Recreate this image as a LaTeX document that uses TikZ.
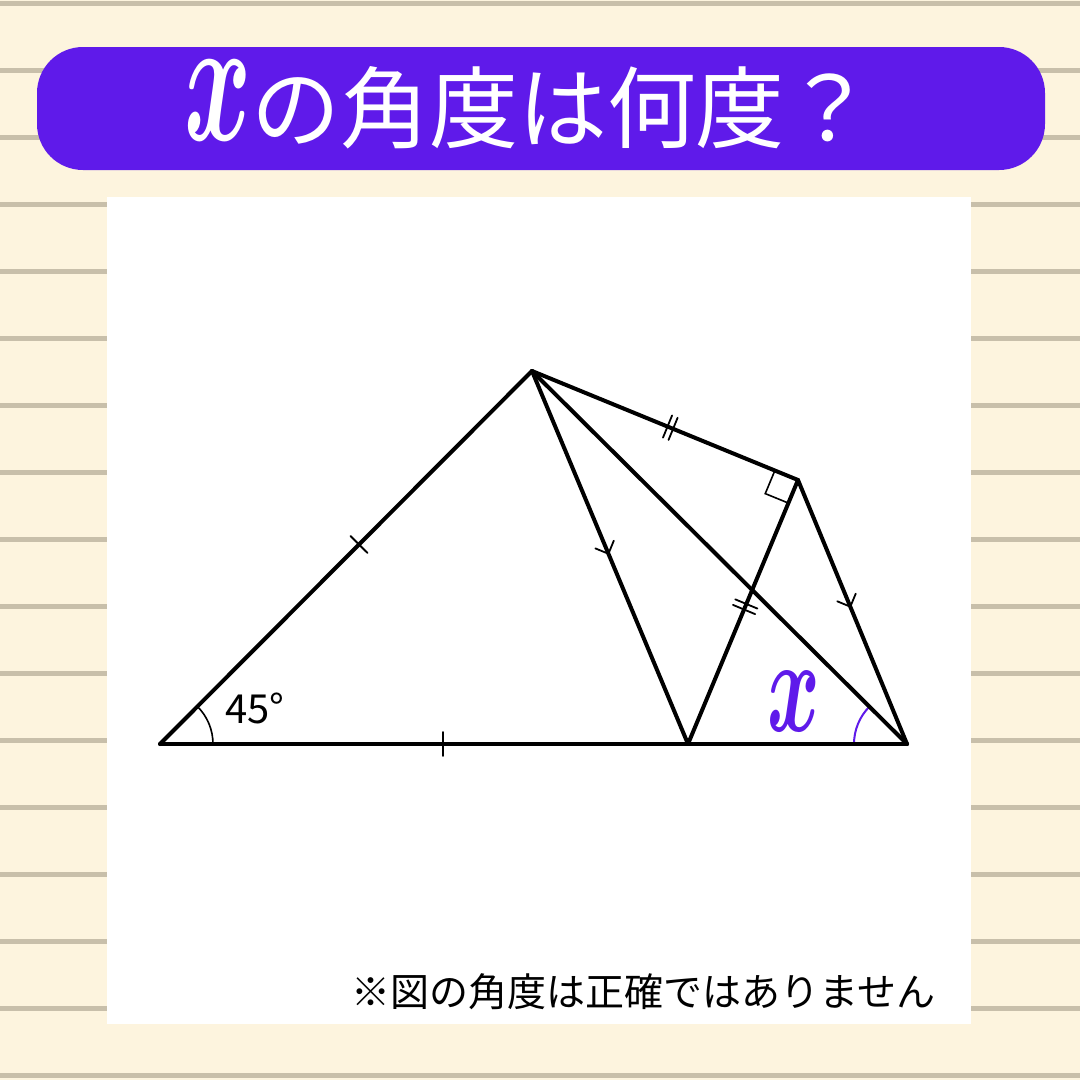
\documentclass[tikz,border=0pt]{standalone}
\usepackage{fontspec}
\usepackage{graphicx}
\newfontfamily\jp{Noto Sans CJK JP}
\usetikzlibrary{calc,decorations.markings}
\definecolor{cream}{HTML}{FDF4DE}
\definecolor{stripe}{HTML}{C8BFAA}
\definecolor{violet}{HTML}{5F1AEA}
\tikzset{
  edge/.style={line width=4pt, line cap=round, line join=round},
  thinline/.style={line width=1.6pt},
  tickone/.style={postaction={decorate, decoration={markings,
      mark=at position #1 with {\draw[line width=1.8pt] (0pt,-12pt) -- (0pt,12pt);}}}},
  ticktwo/.style={postaction={decorate, decoration={markings,
      mark=at position #1 with {\draw[line width=1.8pt] (-3pt,-12pt) -- (-3pt,12pt) (3pt,-12pt) -- (3pt,12pt);}}}},
  chevron/.style={postaction={decorate, decoration={markings,
      mark=at position #1 with {\draw[line width=1.8pt] (-10pt,10pt) -- (0pt,0pt) -- (-10pt,-10pt);}}}},
  txt/.style={inner sep=0pt, outer sep=0pt}
}
\begin{document}
\begin{tikzpicture}[x=1pt,y=1pt]
\useasboundingbox (0,0) rectangle (1080,-1080);
\fill[cream] (0,0) rectangle (1080,-1080);
\foreach \k in {0,...,16} {
  \fill[stripe] (0,{-3-67*\k-2.5}) rectangle (1080,{-3-67*\k+2.5});
}
% banner
\fill[violet, rounded corners=46pt] (37,-47) rectangle (1045,-170);
\node[txt, white, anchor=base] (tx) at (218,-140) {\scalebox{10.2}[18]{\boldmath$x$}};
\node[txt, white, anchor=base west] (tt) at (251,-141) {\jp\fontsize{89}{89}\selectfont の角度は何度？};
% panel
\fill[white] (107,-197) rectangle (971,-1024);
% geometry
\coordinate (A) at (160,-744);
\coordinate (P) at (532,-371);
\coordinate (Q) at (798,-480);
\coordinate (D) at (688,-744);
\coordinate (C) at (907,-744);
% angle marks
\draw[thinline] ($(A)+(53,0)$) arc[start angle=0, end angle=45, radius=53];
\draw[line width=2pt, violet] ($(C)+(-53,0)$) arc[start angle=180, end angle=135, radius=53];
% right angle
\coordinate (r1) at ($(Q)!25pt!(P)$);
\coordinate (r2) at ($(Q)!25pt!(D)$);
\draw[thinline] (r1) -- ($(r1)+(r2)-(Q)$) -- (r2);
% edges
\draw[edge, tickone=0.535] (A) -- (P);
\draw[edge, tickone=0.536] (A) -- (D);
\draw[edge] (D) -- (C);
\draw[edge, chevron=0.49] (P) -- (D);
\draw[edge] (P) -- (C);
\draw[edge, ticktwo=0.52] (P) -- (Q);
\draw[edge, ticktwo=0.52] (D) -- (Q);
\draw[edge, chevron=0.48] (Q) -- (C);
% labels
\node[txt, anchor=base west] (l45) at (225,-723) {\jp\fontsize{40}{40}\selectfont 45°};
\node[txt, violet, anchor=base] (lx) at (794,-731) {\scalebox{8}[13.5]{\boldmath$x$}};
\node[txt, anchor=base east] (note) at (935,-1006) {\jp\fontsize{39}{39}\selectfont ※図の角度は正確ではありません};
\end{tikzpicture}
\end{document}
